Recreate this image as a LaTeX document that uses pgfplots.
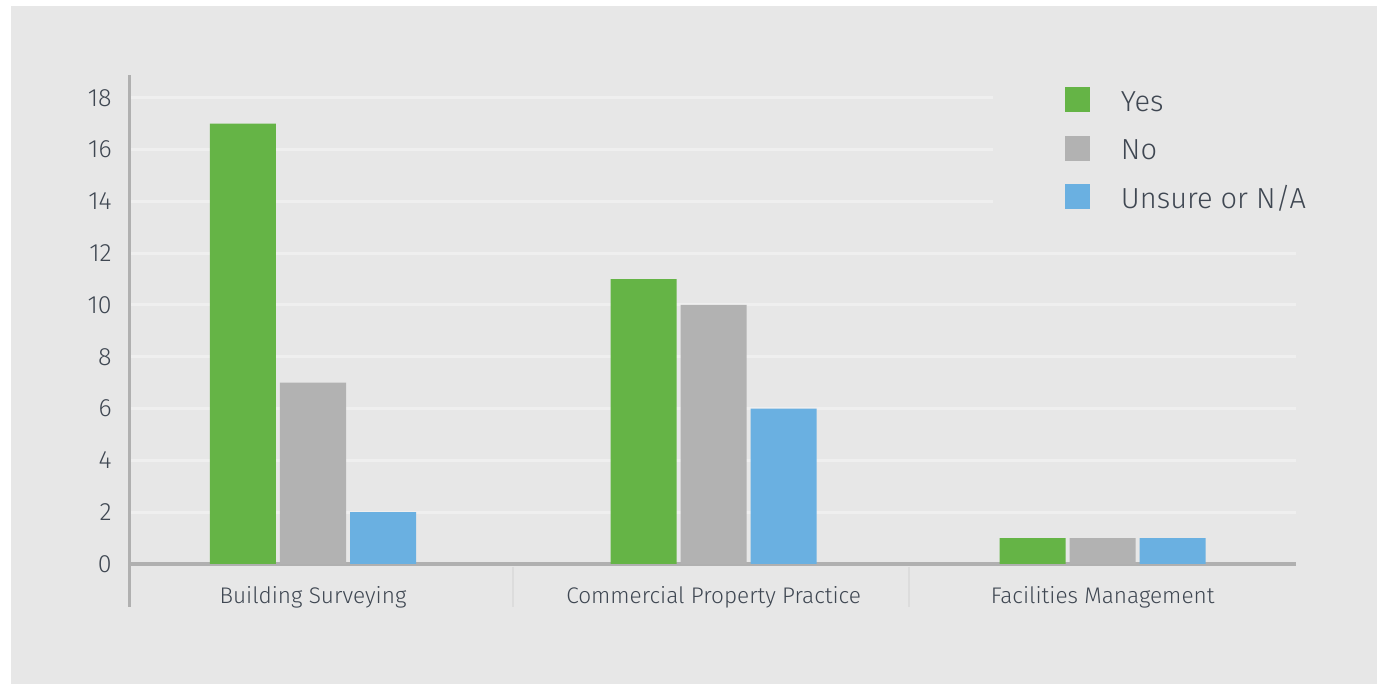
\documentclass[border=0pt]{standalone}
\usepackage{fontspec}
\setmainfont{Fira Sans}[UprightFont={* Light}]
\usepackage{pgfplots}
\pgfplotsset{compat=1.18}
\definecolor{bg}{HTML}{E7E7E7}
\definecolor{gridc}{HTML}{EFEFEF}
\definecolor{axc}{HTML}{B0B0B0}
\definecolor{sepc}{HTML}{DCDCDC}
\definecolor{txt}{HTML}{3F4752}
\definecolor{cYes}{HTML}{65B446}
\definecolor{cNo}{HTML}{B2B2B2}
\definecolor{cUn}{HTML}{6AB0E1}
\pgfplotsset{sqlegend/.style={legend image code/.code={\fill[##1] (0pt,-0.5pt) rectangle (12.5pt,12pt);}}}
\begin{document}
\begin{tikzpicture}
\fill[white] (0,0) rectangle (688.5pt,342pt);
\fill[bg] (5.5pt,0) rectangle (688.5pt,339pt);
\begin{axis}[
  at={(64.5pt,60pt)}, anchor=south west,
  scale only axis, width=583.5pt, height=244.5pt,
  xmin=-0.473, xmax=2.527, ymin=0, ymax=18.88,
  ybar=2pt, bar width=0.1697,
  axis lines*=left, axis line style={-},
  x axis line style={draw=axc, line width=2pt},
  y axis line style={draw=axc, line width=1.5pt},
  ytick={0,2,...,18}, ymajorgrids, grid style={gridc, line width=1.5pt},
  /pgf/number format/assume math mode=true,
  xtick={0,1.03,2.03},
  xticklabels={Building Surveying, Commercial Property Practice, Facilities Management},
  major tick length=0pt, tick style={draw=none},
  yticklabel style={font=\fontsize{12.5}{14}\selectfont, text=txt, inner sep=0pt, anchor=east, xshift=-8.5pt},
  xticklabel style={font=\fontsize{11.3}{14}\selectfont, text=txt, inner sep=0pt, anchor=north, text height=8.3pt, text depth=2.5pt, yshift=-11.5pt},
  legend style={at={(0.740,1)}, anchor=north west, fill=bg, draw=none,
    inner xsep=36pt, inner ysep=6pt, column sep=15.5pt, row sep=11.75pt,
    font=\fontsize{14.5}{17}\selectfont, text=txt,
    nodes={inner sep=0pt, text height=12pt, text depth=0.5pt}, cells={anchor=base west}},
  clip=false,
]
\addplot[fill=cYes, draw=none, sqlegend] coordinates {(0,17) (1.03,11) (2.03,1)};
\addlegendentry{Yes}
\addplot[fill=cNo, draw=none, sqlegend] coordinates {(0,7) (1.03,10) (2.03,1)};
\addlegendentry{No}
\addplot[fill=cUn, draw=none, sqlegend] coordinates {(0,2) (1.03,6) (2.03,1)};
\addlegendentry{Unsure or N/A}
\draw[sepc, line width=1pt] (axis cs:0.514,0) ++(0pt,-1.5pt) -- ++(0pt,-20pt);
\draw[sepc, line width=1pt] (axis cs:1.532,0) ++(0pt,-1.5pt) -- ++(0pt,-20pt);
\draw[axc, line width=1.5pt] (rel axis cs:0,0) -- ++(0pt,-21.5pt);
\end{axis}
\pgfresetboundingbox
\useasboundingbox (0,0) rectangle (688.5pt,342pt);
\end{tikzpicture}
\end{document}
